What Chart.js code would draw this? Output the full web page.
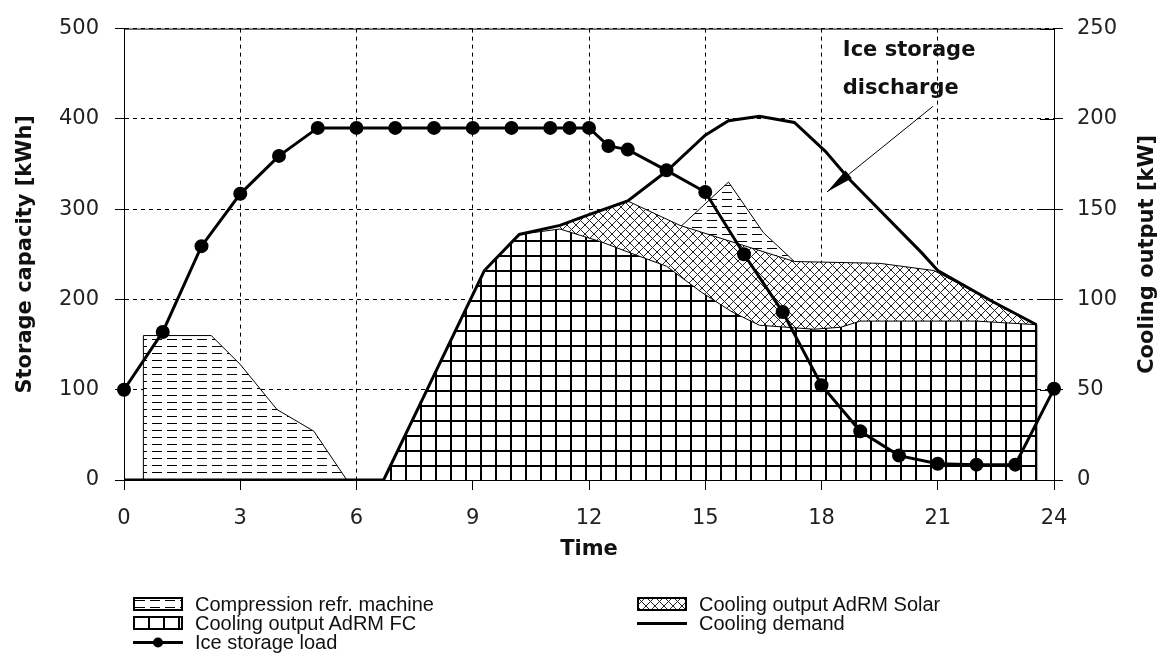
<!DOCTYPE html>
<html>
<head>
<meta charset="utf-8">
<script src="https://cdn.jsdelivr.net/npm/chart.js@4"></script>
<style>
  body { margin: 0; background: #fff; }
  #wrap { position: relative; width: 1167px; height: 672px; }
  .item { position: absolute; display: flex; align-items: center; white-space: nowrap;
          font-family: "Liberation Sans"; font-size: 20px; color: #111; line-height: 20px; }
  .item canvas { margin-right: 12px; }
</style>
</head>
<body>
<div id="wrap">
  <canvas id="grafico" width="1167" height="672"></canvas>
  <div id="legenda"></div>
</div>
<script>
// eixo do tempo [h]
const horaMin = 0, horaMax = 24, horaPasso = 3;

// Ice storage load [kWh] (eixo esquerdo)
const horasGelo = [0, 1, 2, 3, 4, 5, 6, 7, 8, 9, 10, 11, 11.5, 12, 12.5, 13, 14, 15, 16, 17, 18, 19, 20, 21, 22, 23, 24];
const cargaGelo = [100, 164, 259, 317, 359, 390, 390, 390, 390, 390, 390, 390, 390, 390, 370, 366, 343, 319, 250, 186, 105, 54, 27, 18, 17, 17, 101];

// Cooling demand [kW] (eixo direito)
const horasDemanda = [0, 6.7, 9.3, 10.2, 11.25, 12, 13, 14, 15, 15.6, 16.4, 17.3, 18.1, 18.7, 20.6, 21, 22.4, 23.55];
const demanda = [0, 0, 116, 136, 141, 147, 154.5, 171, 191, 199, 201.5, 198, 182, 167, 125.5, 116, 99, 86];

// Cooling output AdRM FC [kW]
const horasFC = [6.7, 9.3, 10.2, 11.25, 12.3, 13.1, 14, 14.9, 15.7, 16.4, 17.8, 18.5, 19, 22, 23.55, 23.55];
const saidaFC = [0, 116, 136, 139, 132, 125.5, 118.4, 104, 93, 85.7, 83.5, 84.6, 88, 88, 86, 0];

// Cooling output AdRM Solar [kW]
const horasSolar = [11.25, 12, 13, 14.35, 17.3, 19.5, 20.9, 22.4, 23.55, 23.55];
const saidaSolar = [141, 147, 154.5, 141, 121, 120, 116, 99, 86, 0];

// Compression refr. machine [kW] (manhã e tarde, null separa)
const horasComp = [0.5, 0.5, 2.25, 3, 3.95, 4.9, 5.75, 10, 14.35, 15.6, 16.5, 17.3];
const saidaComp = [0, 80, 80, 64, 39, 27, 0, null, 140, 165, 137, 121];

const legendas = ["Compression refr. machine", "Cooling output AdRM Solar", "Cooling output AdRM FC", "Cooling demand", "Ice storage load"];

// anotação
const notaTexto = ["Ice storage", "discharge"];
const notaHora = 18.55, notaKW = [235, 214];
const setaInicio = [20.88, 207], setaFim = [18.14, 159.5];

const pares = (xs, ys) => xs.map((x, i) => ({ x: x, y: ys[i] }));

function padrao(w, h, desenha) {
  const c = document.createElement('canvas');
  c.width = w; c.height = h;
  const g = c.getContext('2d');
  g.fillStyle = '#fff';
  g.fillRect(0, 0, w, h);
  g.strokeStyle = '#000';
  g.fillStyle = '#000';
  desenha(g);
  return g.createPattern(c, 'repeat');
}
const hachuraTracos = padrao(15, 7, g => {
  g.lineWidth = 1;
  g.beginPath(); g.moveTo(2, 3.5); g.lineTo(12, 3.5); g.stroke();
});
const hachuraGrade = padrao(15, 15, g => {
  g.fillRect(0, 0, 2, 15);
  g.fillRect(0, 0, 15, 2);
});
const hachuraCruzada = padrao(9, 9, g => {
  g.strokeStyle = '#222';
  g.lineWidth = 1;
  g.beginPath();
  g.moveTo(-1, -1); g.lineTo(10, 10);
  g.moveTo(10, -1); g.lineTo(-1, 10);
  g.stroke();
});

Chart.defaults.font.family = 'DejaVu Sans';
Chart.defaults.font.size = 21;
Chart.defaults.color = '#222';

const extras = {
  id: 'extras',
  afterDraw(chart) {
    const { ctx, chartArea: a, scales } = chart;
    const sx = scales.x, sy = scales.y2;
    ctx.save();
    ctx.strokeStyle = '#000';
    ctx.lineWidth = 1;
    ctx.beginPath();
    ctx.moveTo(a.left, a.top + 0.5);
    ctx.lineTo(a.right, a.top + 0.5);
    // marcas do eixo direito também para dentro
    sy.ticks.forEach(t => {
      const py = Math.round(sy.getPixelForValue(t.value)) + 0.5;
      ctx.moveTo(a.right - 14, py);
      ctx.lineTo(a.right, py);
    });
    ctx.stroke();

    // título do eixo direito (lido de baixo para cima)
    ctx.save();
    ctx.font = 'bold 21px "DejaVu Sans"';
    ctx.fillStyle = '#111';
    ctx.translate(1148, (a.top + a.bottom) / 2);
    ctx.rotate(-Math.PI / 2);
    ctx.textAlign = 'center';
    ctx.textBaseline = 'middle';
    ctx.fillText('Cooling output [kW]', 0, 0);
    ctx.restore();

    // anotação
    ctx.font = 'bold 21px "DejaVu Sans"';
    ctx.fillStyle = '#111';
    ctx.textAlign = 'left';
    ctx.textBaseline = 'alphabetic';
    notaTexto.forEach((t, i) => ctx.fillText(t, sx.getPixelForValue(notaHora), sy.getPixelForValue(notaKW[i])));

    const x1 = sx.getPixelForValue(setaInicio[0]), y1 = sy.getPixelForValue(setaInicio[1]);
    const x2 = sx.getPixelForValue(setaFim[0]), y2 = sy.getPixelForValue(setaFim[1]);
    ctx.beginPath();
    ctx.moveTo(x1, y1);
    ctx.lineTo(x2, y2);
    ctx.stroke();
    const ang = Math.atan2(y2 - y1, x2 - x1);
    const comp = 28, larg = 5;
    ctx.beginPath();
    ctx.moveTo(x2, y2);
    ctx.lineTo(x2 - comp * Math.cos(ang) - larg * Math.sin(ang), y2 - comp * Math.sin(ang) + larg * Math.cos(ang));
    ctx.lineTo(x2 - comp * Math.cos(ang) + larg * Math.sin(ang), y2 - comp * Math.sin(ang) - larg * Math.cos(ang));
    ctx.closePath();
    ctx.fillStyle = '#000';
    ctx.fill();
    ctx.restore();
  }
};

new Chart(document.getElementById('grafico'), {
  type: 'line',
  data: {
    datasets: [{
      label: legendas[0],
      data: pares(horasComp, saidaComp),
      yAxisID: 'y2',
      borderColor: '#000',
      borderWidth: 1,
      backgroundColor: hachuraTracos,
      fill: 'origin',
      pointRadius: 0,
      spanGaps: false,
      order: 4
    }, {
      label: legendas[1],
      data: pares(horasSolar, saidaSolar),
      yAxisID: 'y2',
      borderColor: '#000',
      borderWidth: 1,
      backgroundColor: hachuraCruzada,
      fill: 'origin',
      pointRadius: 0,
      order: 3
    }, {
      label: legendas[2],
      data: pares(horasFC, saidaFC),
      yAxisID: 'y2',
      borderColor: '#000',
      borderWidth: 1,
      backgroundColor: hachuraGrade,
      fill: 'origin',
      pointRadius: 0,
      order: 2
    }, {
      label: legendas[3],
      data: pares(horasDemanda, demanda),
      yAxisID: 'y2',
      borderColor: '#000',
      borderWidth: 3,
      pointRadius: 0,
      fill: false,
      order: 1
    }, {
      label: legendas[4],
      data: pares(horasGelo, cargaGelo),
      yAxisID: 'y',
      borderColor: '#000',
      borderWidth: 3,
      pointRadius: 5.5,
      pointBackgroundColor: '#000',
      pointBorderColor: '#000',
      fill: false,
      clip: false,
      order: 0
    }]
  },
  options: {
    responsive: false,
    animation: false,
    layout: { padding: { top: 22, bottom: 110, left: 0, right: 0 } },
    plugins: {
      legend: { display: false },
      tooltip: { enabled: false }
    },
    scales: {
      x: {
        type: 'linear',
        min: horaMin,
        max: horaMax,
        afterFit: s => { s.height = 82; },
        ticks: { stepSize: horaPasso, padding: 16, color: '#222' },
        grid: { color: '#000', tickLength: 10, tickColor: '#000' },
        border: { color: '#000', width: 1, dash: [4, 4], z: 1 },
        title: { display: true, text: 'Time', font: { weight: 'bold', size: 21 }, color: '#111', padding: { top: 0, bottom: 0 } }
      },
      y: {
        position: 'left',
        min: 0,
        max: 500,
        afterFit: s => { s.width = 124; },
        ticks: { stepSize: 100, padding: 16, color: '#222' },
        grid: { color: '#000', tickLength: 9, tickColor: '#000' },
        border: { color: '#000', width: 1, dash: [4, 4], z: 1 },
        title: { display: true, text: 'Storage capacity [kWh]', font: { weight: 'bold', size: 21 }, color: '#111', padding: { top: 13, bottom: 0 } }
      },
      y2: {
        position: 'right',
        min: 0,
        max: 250,
        afterFit: s => { s.width = 113; },
        ticks: { stepSize: 50, padding: 14, color: '#222' },
        grid: { drawOnChartArea: false, color: '#000', tickLength: 9, tickColor: '#000' },
        border: { color: '#000', width: 1, z: 1 }
      }
    }
  },
  plugins: [extras]
});

// legenda em duas colunas
const posLegenda = [[133, 604], [637, 604], [133, 623], [637, 623], [133, 642]];
const estilos = [hachuraTracos, hachuraCruzada, hachuraGrade, 'linha', 'marcador'];
const caixa = document.getElementById('legenda');
legendas.forEach((txt, i) => {
  const item = document.createElement('div');
  item.className = 'item';
  item.style.left = posLegenda[i][0] + 'px';
  item.style.top = (posLegenda[i][1] - 10) + 'px';
  const c = document.createElement('canvas');
  c.width = 50; c.height = 14;
  const g = c.getContext('2d');
  const e = estilos[i];
  if (e === 'linha' || e === 'marcador') {
    g.fillStyle = '#000';
    g.fillRect(0, 6, 50, 3);
    if (e === 'marcador') { g.beginPath(); g.arc(25, 7.5, 5, 0, Math.PI * 2); g.fill(); }
  } else {
    g.fillStyle = e;
    g.fillRect(1, 1, 48, 12);
    g.strokeStyle = '#000';
    g.lineWidth = 2;
    g.strokeRect(1, 1, 48, 12);
  }
  item.appendChild(c);
  const s = document.createElement('span');
  s.textContent = txt;
  item.appendChild(s);
  caixa.appendChild(item);
});
</script>
</body>
</html>
